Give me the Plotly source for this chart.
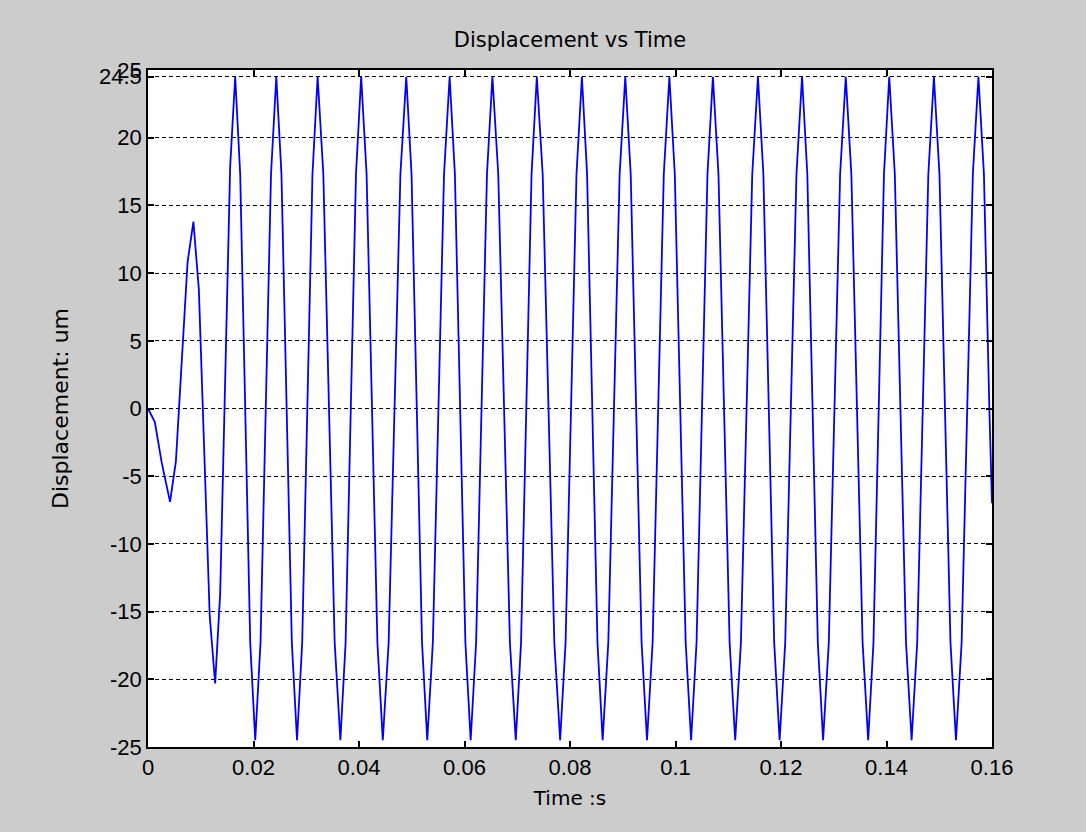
import plotly.graph_objects as go

# Values (extrema plus intermediate readings)
time_s = [
    0.0, 0.0013, 0.0026, 0.0032, 0.00418,
    0.00529, 0.00750, 0.00861,
    0.00964, 0.01170, 0.01273,
    0.01368, 0.01558, 0.01653,
    0.01748, 0.01938, 0.02033,
    0.02133, 0.02332, 0.02432,
    0.02530, 0.02727, 0.02825,
    0.02923, 0.03118, 0.03216,
    0.03324, 0.03539, 0.03647,
    0.03746, 0.03943, 0.04041,
    0.04144, 0.04349, 0.04451,
    0.04562, 0.04785, 0.04896,
    0.04996, 0.05195, 0.05294,
    0.05400, 0.05612, 0.05718,
    0.05818, 0.06017, 0.06117,
    0.06220, 0.06426, 0.06529,
    0.06640, 0.06861, 0.06972,
    0.07072, 0.07271, 0.07371,
    0.07482, 0.07703, 0.07813,
    0.07916, 0.08123, 0.08226,
    0.08324, 0.08521, 0.08619,
    0.08726, 0.08941, 0.09048,
    0.09151, 0.09357, 0.09460,
    0.09566, 0.09778, 0.09884,
    0.09987, 0.10193, 0.10296,
    0.10399, 0.10606, 0.10709,
    0.10815, 0.11026, 0.11132,
    0.11240, 0.11455, 0.11563,
    0.11666, 0.11871, 0.11974,
    0.12080, 0.12293, 0.12399,
    0.12499, 0.12698, 0.12798,
    0.12906, 0.13121, 0.13228,
    0.13334, 0.13547, 0.13653,
    0.13753, 0.13952, 0.14052,
    0.14158, 0.14370, 0.14476,
    0.14582, 0.14793, 0.14899,
    0.15004, 0.15213, 0.15317,
    0.15424, 0.15637, 0.15743,
    0.15847, 0.15950, 0.16,
]

displacement_um = [
    0.0, -1.0, -4.0, -5.2, -6.9,
    -3.9, 10.8, 13.8,
    8.8, -15.3, -20.3,
    -13.7, 17.9, 24.5,
    17.3, -17.3, -24.5,
    -17.3, 17.3, 24.5,
    17.3, -17.3, -24.5,
    -17.3, 17.3, 24.5,
    17.3, -17.3, -24.5,
    -17.3, 17.3, 24.5,
    17.3, -17.3, -24.5,
    -17.3, 17.3, 24.5,
    17.3, -17.3, -24.5,
    -17.3, 17.3, 24.5,
    17.3, -17.3, -24.5,
    -17.3, 17.3, 24.5,
    17.3, -17.3, -24.5,
    -17.3, 17.3, 24.5,
    17.3, -17.3, -24.5,
    -17.3, 17.3, 24.5,
    17.3, -17.3, -24.5,
    -17.3, 17.3, 24.5,
    17.3, -17.3, -24.5,
    -17.3, 17.3, 24.5,
    17.3, -17.3, -24.5,
    -17.3, 17.3, 24.5,
    17.3, -17.3, -24.5,
    -17.3, 17.3, 24.5,
    17.3, -17.3, -24.5,
    -17.3, 17.3, 24.5,
    17.3, -17.3, -24.5,
    -17.3, 17.3, 24.5,
    17.3, -17.3, -24.5,
    -17.3, 17.3, 24.5,
    17.3, -17.3, -24.5,
    -17.3, 17.3, 24.5,
    17.3, -17.3, -24.5,
    -17.3, 17.3, 24.5,
    17.3, 0.0, -7.0,
]

x_tick_vals = [0, 0.02, 0.04, 0.06, 0.08, 0.1, 0.12, 0.14, 0.16]
x_tick_text = ["0", "0.02", "0.04", "0.06", "0.08", "0.1", "0.12", "0.14", "0.16"]
y_tick_vals = [-25, -20, -15, -10, -5, 0, 5, 10, 15, 20, 24.5, 25]
y_tick_text = ["-25", "-20", "-15", "-10", "-5", "0", "5", "10", "15", "20", "24.5", "25"]

FONT = "Liberation Sans, Arial, sans-serif"
TFONT = "DejaVu Sans, Liberation Sans, sans-serif"

fig = go.Figure()
fig.add_trace(go.Scatter(
    x=time_s, y=displacement_um, mode="lines",
    line=dict(color="#0000ff", width=1.8),
    showlegend=False, hoverinfo="x+y",
))

axis_common = dict(
    showline=True, linecolor="black", linewidth=1.5, mirror="allticks",
    ticks="inside", ticklen=6, tickwidth=1.5, tickcolor="black",
    zeroline=False,
    tickfont=dict(family=FONT, size=22, color="black"),
)

fig.update_xaxes(
    range=[0, 0.16], tickvals=x_tick_vals, ticktext=x_tick_text,
    showgrid=False,
    title=dict(text="Time :s", font=dict(family=TFONT, size=20, color="black"), standoff=12),
    **axis_common,
)
fig.update_yaxes(
    range=[-25, 25], tickvals=y_tick_vals, ticktext=y_tick_text,
    showgrid=True, gridcolor="black", gridwidth=1, griddash="4px,3px",
    title=dict(text="Displacement: um", font=dict(family=TFONT, size=22, color="black"), standoff=24),
    **axis_common,
)

fig.update_layout(
    width=1086, height=832,
    paper_bgcolor="#cccccc", plot_bgcolor="white",
    margin=dict(l=148, r=94, t=70, b=85, autoexpand=False),
    title=dict(text="Displacement vs Time", x=0.5, xanchor="center",
               xref="paper", y=1 - 40 / 832, yanchor="middle",
               font=dict(family=TFONT, size=21, color="black")),
    font=dict(family=FONT, color="black"),
)

fig.write_html(
    "out.html",
    config={"displayModeBar": False},
    post_script="document.body.style.margin='0';document.body.style.background='#cccccc';",
)
